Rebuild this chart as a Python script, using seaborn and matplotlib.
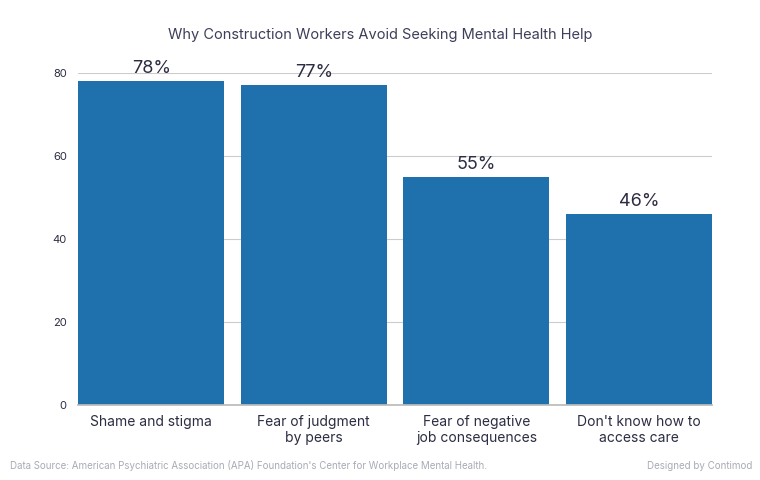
import matplotlib
matplotlib.use("Agg")
import matplotlib.pyplot as plt
import seaborn as sns
import pandas as pd

categories = ["Shame and stigma", "Fear of judgment\nby peers",
              "Fear of negative\njob consequences", "Don't know how to\naccess care"]
percent = [78, 77, 55, 46]
yticks = [0, 20, 40, 60, 80]

df = pd.DataFrame({"Reason": categories, "Percent": percent})

sns.set_theme(style="whitegrid")
plt.rcParams["font.family"] = ["Inter", "DejaVu Sans"]

text_color = "#2b2d42"
bar_color = "#1f71ad"

fig = plt.figure(figsize=(7.6, 4.8), dpi=100)
ax = fig.add_axes([0.1026, 0.15625, 0.8342, 0.6917])

sns.barplot(data=df, x="Reason", y="Percent", color=bar_color, width=0.9,
            saturation=1, linewidth=0, ax=ax)

for i, v in enumerate(percent):
    ax.text(i, v + 1.0, f"{v}%", ha="center", va="bottom", fontsize=13,
            color=text_color, clip_on=False)

ax.set_xlim(-0.45, 3.45)
ax.set_ylim(0, 80)
ax.set_yticks(yticks)
ax.set_xlabel("")
ax.set_ylabel("")
ax.grid(axis="x", visible=False)
ax.grid(axis="y", color="#cccccc", linewidth=0.8)
for s in ["top", "right", "left"]:
    ax.spines[s].set_visible(False)
ax.spines["bottom"].set_color("#bbbbbb")
ax.tick_params(axis="y", labelsize=8, colors=text_color, length=0, pad=8)
ax.tick_params(axis="x", labelsize=10, colors=text_color, length=0, pad=7)
ax.set_axisbelow(True)

fig.text(0.5, 0.928, "Why Construction Workers Avoid Seeking Mental Health Help",
         ha="center", va="center", fontsize=10.5, color="#3d3f5a")
fig.text(0.013, 0.03, "Data Source: American Psychiatric Association (APA) Foundation's Center for Workplace Mental Health.",
         ha="left", va="center", fontsize=7, color="#a9abb5")
fig.text(0.99, 0.03, "Designed by Contimod", ha="right", va="center",
         fontsize=7, color="#a9abb5")

fig.savefig("out.png", dpi=100, facecolor="white")
